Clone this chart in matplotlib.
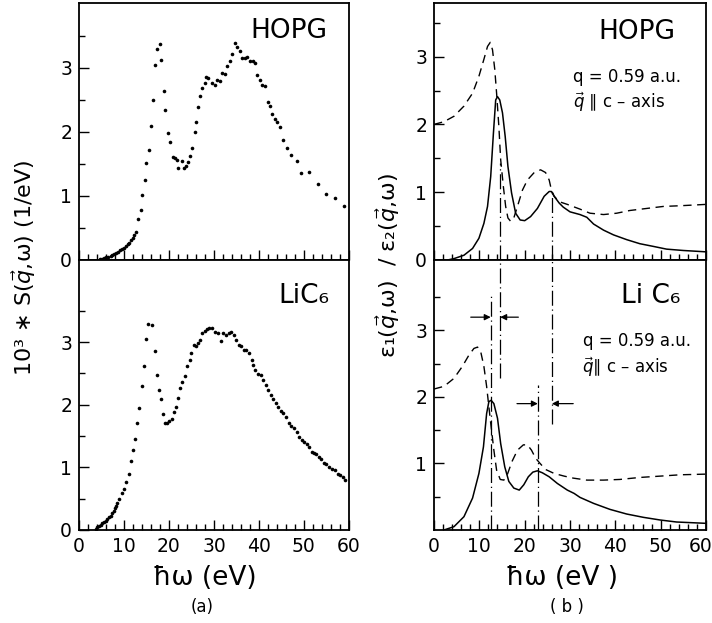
import numpy as np
import matplotlib.pyplot as plt
from matplotlib.ticker import MultipleLocator
from matplotlib.transforms import ScaledTranslation

plt.rcParams['font.family'] = ['DejaVu Sans']

# (a) measured loss function, 10^3 * S(q,w) in 1/eV
hopg_E = [4.7, 5.2, 5.6, 6.1, 6.5, 7.0, 7.4, 7.8, 8.3, 8.7, 9.1, 9.5, 10.0, 10.4,
          10.8, 11.1, 11.5, 11.9, 12.3, 12.6, 13.2, 13.7, 14.1, 14.6, 15.0, 15.5,
          15.9, 16.4, 16.9, 17.3, 17.9, 18.2, 18.8, 19.2, 19.8, 20.2, 20.8, 21.3,
          21.7, 22.1, 22.8, 23.3, 23.7, 24.2, 24.7, 25.2, 25.7, 26.1, 26.5, 27.0,
          27.4, 27.9, 28.3, 28.7, 29.5, 30.2, 30.7, 31.3, 31.8, 32.4, 33.0, 33.5,
          34.1, 34.7, 35.2, 35.8, 36.3, 36.9, 37.4, 38.0, 38.6, 39.1, 39.6, 40.2,
          40.7, 41.3, 42.1, 42.4, 42.9, 43.5, 44.1, 44.7, 45.4, 46.3, 47.2, 48.4,
          49.3, 51.2, 53.2, 55.0, 57.0, 58.9]
hopg_S = [0.01, 0.02, 0.03, 0.04, 0.05, 0.06, 0.08, 0.09, 0.11, 0.13, 0.15, 0.17,
          0.19, 0.22, 0.25, 0.27, 0.31, 0.35, 0.39, 0.43, 0.64, 0.78, 1.02, 1.25,
          1.52, 1.71, 2.09, 2.49, 3.04, 3.29, 3.37, 3.12, 2.63, 2.34, 1.98, 1.84,
          1.60, 1.59, 1.56, 1.44, 1.54, 1.44, 1.47, 1.53, 1.63, 1.75, 1.99, 2.15,
          2.38, 2.56, 2.69, 2.77, 2.85, 2.84, 2.76, 2.73, 2.81, 2.80, 2.92, 2.91,
          3.02, 3.10, 3.22, 3.38, 3.33, 3.26, 3.16, 3.16, 3.17, 3.11, 3.10, 3.08,
          2.89, 2.81, 2.73, 2.71, 2.47, 2.40, 2.28, 2.20, 2.15, 2.07, 1.88, 1.74,
          1.64, 1.55, 1.36, 1.37, 1.18, 1.03, 0.97, 0.84]

lic6_E = [3.7, 4.1, 4.4, 4.8, 5.2, 5.5, 5.9, 6.3, 6.7, 7.0, 7.4, 7.7, 8.0, 8.3,
          8.5, 8.9, 9.5, 9.9, 10.4, 11.0, 11.5, 12.0, 12.4, 13.0, 13.4, 13.9,
          14.4, 14.9, 15.4, 16.3, 16.8, 17.3, 17.7, 18.2, 18.7, 19.1, 19.6, 20.1,
          20.6, 21.1, 21.6, 22.1, 22.5, 23.0, 23.5, 24.0, 24.6, 25.0, 25.6, 26.1,
          26.5, 27.0, 27.4, 28.0, 28.5, 29.0, 29.5, 30.2, 30.9, 31.5, 32.1, 32.7,
          33.4, 33.9, 34.4, 35.0, 35.5, 36.1, 36.7, 37.2, 37.8, 38.4, 38.7, 39.2,
          39.8, 40.4, 41.0, 41.5, 42.1, 42.6, 43.2, 43.7, 44.3, 44.8, 45.4, 46.0,
          46.7, 47.2, 47.8, 48.4, 48.9, 49.5, 50.1, 50.6, 51.2, 51.7, 52.2, 52.8,
          53.4, 53.9, 54.4, 55.0, 55.6, 56.2, 56.9, 57.5, 58.0, 58.6, 59.1]
lic6_S = [0.02, 0.04, 0.06, 0.08, 0.11, 0.13, 0.15, 0.18, 0.20, 0.23, 0.27, 0.31,
          0.35, 0.39, 0.43, 0.49, 0.59, 0.66, 0.77, 0.89, 1.10, 1.27, 1.46, 1.71,
          1.94, 2.30, 2.62, 3.05, 3.29, 3.27, 2.86, 2.47, 2.23, 2.09, 1.85, 1.71,
          1.70, 1.74, 1.77, 1.89, 1.97, 2.10, 2.26, 2.37, 2.46, 2.62, 2.71, 2.82,
          2.96, 2.93, 2.99, 3.03, 3.15, 3.18, 3.21, 3.22, 3.22, 3.16, 3.15, 3.02,
          3.14, 3.11, 3.14, 3.16, 3.11, 3.03, 2.95, 2.93, 2.88, 2.87, 2.82, 2.71,
          2.63, 2.55, 2.49, 2.47, 2.39, 2.31, 2.23, 2.15, 2.09, 2.02, 1.96, 1.90,
          1.86, 1.81, 1.71, 1.66, 1.62, 1.57, 1.49, 1.44, 1.41, 1.37, 1.33, 1.25,
          1.23, 1.22, 1.17, 1.13, 1.07, 1.06, 1.01, 0.98, 0.96, 0.90, 0.88, 0.84,
          0.80]

# (b) dielectric function, eps1 dashed, eps2 solid
hopg_e1_E = [0, 2.2, 4.4, 6.6, 8.5, 9.9, 11.0, 11.8, 12.4, 12.9, 13.4, 13.8, 14.3,
             14.7, 15.3, 15.8, 16.3, 16.9, 17.6, 18.4, 19.5, 20.6, 22.1, 23.5, 24.6,
             25.4, 25.9, 26.5, 27.6, 29.4, 32.2, 34.4, 37.4, 40.3, 43.2, 46.9, 50.6,
             54.3, 60]
hopg_e1 = [2.00, 2.04, 2.12, 2.27, 2.46, 2.71, 2.96, 3.15, 3.21, 3.10, 2.81, 2.46,
           1.97, 1.48, 1.08, 0.79, 0.62, 0.57, 0.62, 0.79, 1.03, 1.18, 1.29, 1.33,
           1.29, 1.18, 1.03, 0.94, 0.86, 0.82, 0.75, 0.69, 0.67, 0.69, 0.73, 0.76,
           0.79, 0.80, 0.82]
hopg_e2_E = [3.0, 4.4, 6.6, 8.5, 9.9, 11.0, 11.8, 12.5, 13.1, 13.6, 14.0, 14.5,
             15.1, 15.7, 16.3, 17.1, 18.0, 19.0, 20.0, 21.3, 22.8, 24.3, 25.4, 25.9,
             26.5, 27.6, 28.5, 30.0, 32.2, 33.7, 35.2, 37.4, 39.6, 42.5, 45.4, 48.4,
             51.3, 55.0, 60]
hopg_e2 = [0.0, 0.02, 0.07, 0.17, 0.32, 0.54, 0.79, 1.23, 1.87, 2.36, 2.41, 2.36,
           2.17, 1.82, 1.38, 0.99, 0.69, 0.59, 0.58, 0.64, 0.76, 0.94, 1.01, 1.01,
           0.94, 0.84, 0.78, 0.71, 0.67, 0.63, 0.53, 0.44, 0.37, 0.30, 0.24, 0.20,
           0.16, 0.14, 0.12]

lic6_e1_E = [0, 2.2, 4.4, 6.25, 7.7, 8.8, 9.6, 10.3, 11.0, 11.6, 12.1, 12.6, 13.2,
             13.8, 14.6, 15.4, 16.2, 17.2, 18.4, 19.7, 20.6, 21.5, 22.4, 23.4, 24.6,
             26.5, 28.7, 30.7, 33.7, 37.4, 41.0, 45.4, 49.9, 54.3, 60]
lic6_e1 = [2.12, 2.16, 2.28, 2.46, 2.63, 2.73, 2.75, 2.68, 2.46, 2.16, 1.85, 1.55,
           1.20, 0.90, 0.76, 0.75, 0.84, 1.03, 1.20, 1.28, 1.28, 1.20, 1.08, 1.00,
           0.91, 0.85, 0.81, 0.78, 0.75, 0.75, 0.76, 0.79, 0.81, 0.83, 0.84]
lic6_e2_E = [2.2, 4.4, 6.6, 8.5, 9.9, 10.9, 11.6, 12.1, 12.6, 13.2, 14.0, 14.7,
             15.6, 16.5, 17.6, 18.8, 19.8, 20.8, 21.8, 22.8, 23.9, 25.4, 27.2, 29.4,
             30.9, 32.2, 35.2, 38.8, 42.5, 46.2, 49.9, 53.5, 60]
lic6_e2 = [0.0, 0.05, 0.20, 0.48, 0.85, 1.25, 1.75, 1.93, 1.95, 1.90, 1.68, 1.30,
           0.95, 0.73, 0.63, 0.60, 0.68, 0.80, 0.87, 0.89, 0.86, 0.80, 0.70, 0.60,
           0.55, 0.49, 0.40, 0.31, 0.24, 0.19, 0.15, 0.12, 0.10]

# plasmon positions (dash-dot markers)
hopg_peaks = [14.6, 26.0]
lic6_peaks = [12.5, 22.9]

fig = plt.figure(figsize=(7.12, 6.23), dpi=100)
ax_at = fig.add_axes([0.111, 0.5827, 0.379, 0.4124])
ax_ab = fig.add_axes([0.111, 0.1493, 0.379, 0.4334])
ax_bt = fig.add_axes([0.6096, 0.5827, 0.382, 0.4124])
ax_bb = fig.add_axes([0.6096, 0.1493, 0.382, 0.4334])

ax_at.set_ylim(0, 4.01)
ax_ab.set_ylim(0, 4.31)
ax_bt.set_ylim(0, 3.79)
ax_bb.set_ylim(0, 4.06)

for ax in (ax_at, ax_ab, ax_bt, ax_bb):
    ax.set_xlim(0, 60)
    ax.xaxis.set_major_locator(MultipleLocator(10))
    ax.xaxis.set_minor_locator(MultipleLocator(2))
    ax.set_yticks([0.5, 1.5, 2.5, 3.5], minor=True)
    ax.tick_params(which='both', direction='in', top=False, right=False,
                   labelsize=13.5, width=1.0)
    ax.tick_params(which='major', length=7, pad=5)
    ax.tick_params(which='minor', length=4)
    for sp in ax.spines.values():
        sp.set_linewidth(1.3)

for ax in (ax_at, ax_bt):
    ax.tick_params(labelbottom=False)
    ax.set_yticks([0, 1, 2, 3])
ax_ab.set_yticks([0, 1, 2, 3])
ax_bb.set_yticks([1, 2, 3])
ax_bb.set_xticks([0, 10, 20, 30, 40, 50, 60])
last = ax_bb.get_xticklabels()[-1]
last.set_transform(last.get_transform() +
                   ScaledTranslation(-4 / 72, 0, fig.dpi_scale_trans))

# scattered data points
ax_at.plot(hopg_E, hopg_S, 'o', color='black', ms=2.6, mew=0)
ax_ab.plot(lic6_E, lic6_S, 'o', color='black', ms=2.6, mew=0)

# eps1 / eps2 curves
ax_bt.plot(hopg_e1_E, hopg_e1, color='black', lw=1.0, dashes=(6, 4))
ax_bt.plot(hopg_e2_E, hopg_e2, color='black', lw=1.1)
ax_bb.plot(lic6_e1_E, lic6_e1, color='black', lw=1.0, dashes=(6, 4))
ax_bb.plot(lic6_e2_E, lic6_e2, color='black', lw=1.1)

dashdot = (0, (12, 3, 1, 3))
ax_bt.plot([hopg_peaks[0]] * 2, [0, 1.43], color='black', lw=0.9, ls=dashdot)
ax_bt.plot([hopg_peaks[1]] * 2, [0, 1.0], color='black', lw=0.9, ls=dashdot)
ax_bb.plot([hopg_peaks[0]] * 2, [2.28, 4.06], color='black', lw=0.9, ls=dashdot)
ax_bb.plot([hopg_peaks[1]] * 2, [1.60, 4.06], color='black', lw=0.9, ls=dashdot)
ax_bb.plot([lic6_peaks[0]] * 2, [0, 3.53], color='black', lw=0.9, ls=dashdot)
ax_bb.plot([lic6_peaks[1]] * 2, [0, 2.18], color='black', lw=0.9, ls=dashdot)

# shift arrows between HOPG and LiC6 peaks
arr = dict(arrowstyle='-|>', color='black', lw=0.9, mutation_scale=9,
           shrinkA=0, shrinkB=0)
ax_bb.annotate('', xy=(lic6_peaks[0], 3.2), xytext=(lic6_peaks[0] - 4.4, 3.2),
               arrowprops=arr)
ax_bb.annotate('', xy=(hopg_peaks[0], 3.2), xytext=(hopg_peaks[0] + 4.0, 3.2),
               arrowprops=arr)
ax_bb.annotate('', xy=(lic6_peaks[1], 1.9), xytext=(lic6_peaks[1] - 4.6, 1.9),
               arrowprops=arr)
ax_bb.annotate('', xy=(hopg_peaks[1], 1.9), xytext=(hopg_peaks[1] + 4.7, 1.9),
               arrowprops=arr)

# panel labels
ax_at.text(55.2, 3.58, 'HOPG', ha='right', va='center', fontsize=19)
ax_ab.text(55.6, 3.73, 'LiC₆', ha='right', va='center', fontsize=19)
ax_bt.text(53.3, 3.37, 'HOPG', ha='right', va='center', fontsize=19)
ax_bt.text(30.7, 2.70, 'q = 0.59 a.u.', ha='left', va='center', fontsize=12)
ax_bt.text(30.7, 2.33, r'$\vec{q}$ ∥ c – axis', ha='left', va='center', fontsize=12)
ax_bb.text(54.3, 3.52, 'Li C₆', ha='right', va='center', fontsize=19)
ax_bb.text(32.9, 2.84, 'q = 0.59 a.u.', ha='left', va='center', fontsize=12)
ax_bb.text(32.7, 2.44, r'$\vec{q}$∥ c – axis', ha='left', va='center', fontsize=12)

# axis labels
fig.text(24 / 712, 1 - 268 / 623, r'10³ ∗ S($\vec{q}$,ω) (1/eV)', rotation=90,
         ha='center', va='center', fontsize=16)
fig.text(388 / 712, 1 - 265 / 623, r'ε₁($\vec{q}$,ω)  / ε₂($\vec{q}$,ω)', rotation=90,
         ha='center', va='center', fontsize=16)
fig.text(205 / 712, 1 - 578 / 623, 'ħω (eV)', ha='center', va='center', fontsize=19)
fig.text(562 / 712, 1 - 578 / 623, 'ħω (eV )', ha='center', va='center', fontsize=19)
fig.text(202 / 712, 1 - 607 / 623, '(a)', ha='center', va='center', fontsize=12)
fig.text(567 / 712, 1 - 607 / 623, '( b )', ha='center', va='center', fontsize=12)

fig.savefig('out.png', dpi=100)
